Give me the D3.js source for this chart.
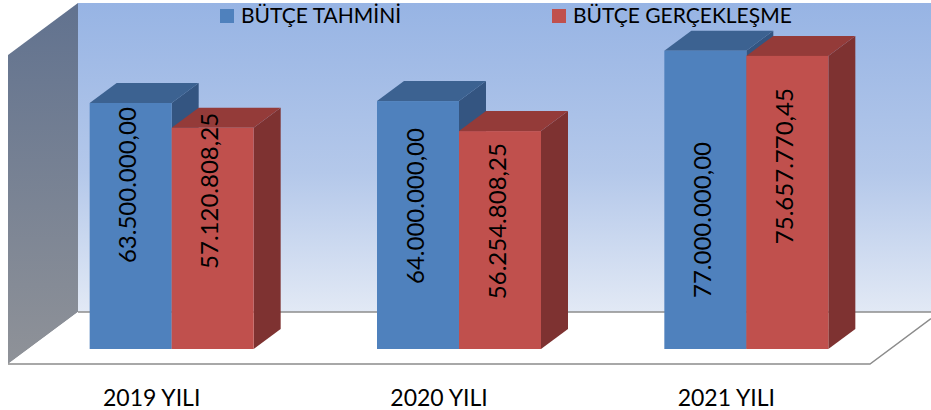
<!DOCTYPE html>
<html><head><meta charset="utf-8">
<script src="https://cdn.jsdelivr.net/npm/d3@7"></script>
<style>html,body{margin:0;padding:0;background:#fff;}svg{display:block;}</style>
</head><body>
<svg id="chart" width="931" height="410"></svg>
<script>
const categories = ["2019 YILI", "2020 YILI", "2021 YILI"];
const seriesNames = ["BÜTÇE TAHMİNİ", "BÜTÇE GERÇEKLEŞME"];
const tahmini = [63500000.00, 64000000.00, 77000000.00];
const gerceklesme = [57120808.25, 56254808.25, 75657770.45];
const valueLabels = [
  ["63.500.000,00", "57.120.808,25"],
  ["64.000.000,00", "56.254.808,25"],
  ["77.000.000,00", "75.657.770,45"]
];
// label centres (in value units along the bar) as placed in the original
const labelCenters = [
  [42.3e6, 40.8e6],
  [36.9e6, 33.0e6],
  [33.3e6, 47.2e6]
];

const colors = {
  front: ["#4f81bd", "#c0504d"],
  top: ["#3c6291", "#943b39"],
  side: ["#345581", "#7e3231"]
};
const FONT = "Lato, 'Open Sans', sans-serif";

const svg = d3.select("#chart");
const defs = svg.append("defs");
const gWall = defs.append("linearGradient").attr("id","wallG").attr("x1",0).attr("y1",0).attr("x2",0).attr("y2",1);
gWall.append("stop").attr("offset","0%").attr("stop-color","#97b4e4");
gWall.append("stop").attr("offset","55%").attr("stop-color","#b4c8ea");
gWall.append("stop").attr("offset","100%").attr("stop-color","#e2e9f5");
const gSide = defs.append("linearGradient").attr("id","sideG").attr("x1",0).attr("y1",0).attr("x2",0).attr("y2",1);
gSide.append("stop").attr("offset","0%").attr("stop-color","#61728f");
gSide.append("stop").attr("offset","100%").attr("stop-color","#8f9298");

// geometry of the 3D box
const floorFrontY = 364, floorLeft = 8, floorRight = 870;
const depthX = 70, depthY = 52;           // floor/wall depth
const barDX = 27, barDY = 20;             // bar depth
const barShiftX = 20, barShiftY = 15;     // bars' front plane inside the floor

const x0 = d3.scaleBand().domain(categories).range([floorLeft, floorRight]).padding(0);
const x1 = d3.scaleBand().domain(seriesNames).range([0, x0.bandwidth()]).paddingInner(0).paddingOuter(0.752);
const baseY = floorFrontY - barShiftY;
const y = d3.scaleLinear().domain([0, 80e6]).range([baseY, baseY - 80 * 3.874]);

// back wall
const wallTop = 3, wallBottom = floorFrontY - depthY;
svg.append("rect").attr("x", floorLeft + depthX).attr("y", wallTop)
  .attr("width", 931 - floorLeft - depthX).attr("height", wallBottom - wallTop)
  .attr("fill", "url(#wallG)");
// side wall
svg.append("polygon")
  .attr("points", [[floorLeft, wallTop + depthY],[floorLeft + depthX, wallTop],[floorLeft + depthX, wallBottom],[floorLeft, floorFrontY]].join(" "))
  .attr("fill", "url(#sideG)");
// floor
svg.append("polygon")
  .attr("points", [[floorLeft, floorFrontY],[floorLeft + depthX, wallBottom],[931, wallBottom],[931, floorFrontY - (931 - floorRight) * depthY / depthX],[floorRight, floorFrontY]].join(" "))
  .attr("fill", "#ffffff");
svg.append("polyline")
  .attr("points", [[floorLeft + depthX, wallBottom],[931, wallBottom]].join(" "))
  .attr("fill","none").attr("stroke","#8c8c8c").attr("stroke-width",1.5);
svg.append("polyline")
  .attr("points", [[floorLeft, floorFrontY],[floorRight, floorFrontY],[931, floorFrontY - (931 - floorRight) * depthY / depthX]].join(" "))
  .attr("fill","none").attr("stroke","#8c8c8c").attr("stroke-width",1.5);

// bars
const data = categories.map((c, i) => ({cat: c, i, vals: [tahmini[i], gerceklesme[i]]}));
const barW = x1.bandwidth();
const groups = svg.selectAll("g.grp").data(data).enter().append("g").attr("class","grp");
groups.each(function(d) {
  const g = d3.select(this);
  d.vals.forEach((v, s) => {
    const bx = x0(d.cat) + x1(seriesNames[s]) + barShiftX;
    const by = y(v);
    g.append("polygon").attr("points", [[bx+barW, by],[bx+barW+barDX, by-barDY],[bx+barW+barDX, baseY-barDY],[bx+barW, baseY]].join(" "))
      .attr("fill", colors.side[s]);
    g.append("polygon").attr("points", [[bx, by],[bx+barDX, by-barDY],[bx+barW+barDX, by-barDY],[bx+barW, by]].join(" "))
      .attr("fill", colors.top[s]);
    g.append("rect").attr("x", bx).attr("y", by).attr("width", barW).attr("height", baseY - by)
      .attr("fill", colors.front[s]);
  });
});
// value labels
groups.each(function(d) {
  const g = d3.select(this);
  d.vals.forEach((v, s) => {
    const cx = x0(d.cat) + x1(seriesNames[s]) + barShiftX + barW / 2;
    const cy = y(labelCenters[d.i][s]);
    g.append("text").attr("transform", `translate(${cx - 3},${cy}) rotate(-90)`)
      .attr("text-anchor","middle").attr("dy","0.36em")
      .attr("font-family", FONT).attr("font-size", 24)
      .attr("fill","#000").text(valueLabels[d.i][s]);
  });
});

// category labels
svg.selectAll("text.cat").data(categories).enter().append("text").attr("class","cat")
  .attr("x", d => x0(d) + x0.bandwidth() / 2).attr("y", 406)
  .attr("text-anchor","middle")
  .attr("font-family", FONT).attr("font-size", 23)
  .attr("fill","#000").text(d => d);

// legend
const legendX = [220, 552];
const lg = svg.selectAll("g.leg").data(seriesNames).enter().append("g").attr("class","leg")
  .attr("transform", (d, i) => `translate(${legendX[i]},0)`);
lg.append("rect").attr("x",0).attr("y",9).attr("width",14).attr("height",14)
  .attr("fill", (d, i) => colors.front[i]);
lg.append("text").attr("x", 21).attr("y", 23)
  .attr("font-family", FONT).attr("font-size", 21)
  .attr("fill","#000").text(d => d);
</script>
</body></html>
